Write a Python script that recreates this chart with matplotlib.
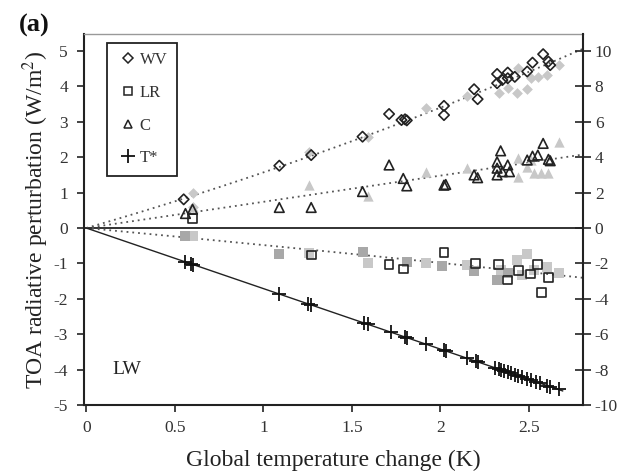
import numpy as np
import matplotlib
matplotlib.use("Agg")
import matplotlib.pyplot as plt
from matplotlib.lines import Line2D

plt.rcParams['font.family'] = ['Liberation Serif', 'DejaVu Serif']
plt.rcParams['mathtext.fontset'] = 'stix'
plt.rcParams['axes.unicode_minus'] = False

# ---- water vapour (WV) ----
wv_x_open = [0.55, 1.09, 1.27, 1.56, 1.71, 1.78, 1.80, 1.81, 2.02, 2.02, 2.19, 2.21,
             2.32, 2.32, 2.35, 2.38, 2.38, 2.42, 2.49, 2.52, 2.58, 2.61, 2.62]
wv_y_open = [0.81, 1.76, 2.06, 2.58, 3.22, 3.05, 3.07, 3.04, 3.45, 3.19, 3.92, 3.64,
             4.35, 4.09, 4.18, 4.39, 4.23, 4.27, 4.42, 4.67, 4.91, 4.70, 4.60]
wv_x_gray = [0.60, 0.60, 1.26, 1.59, 1.92, 2.15, 2.33, 2.38, 2.43, 2.44, 2.49, 2.51,
             2.55, 2.60, 2.67]
wv_y_gray = [0.98, 0.58, 2.16, 2.58, 3.40, 3.72, 3.80, 3.95, 3.82, 4.51, 3.92, 4.23,
             4.27, 4.32, 4.60]

# ---- lapse rate (LR) ----
lr_x_open = [0.60, 1.27, 1.71, 1.79, 2.02, 2.20, 2.33, 2.38, 2.44, 2.51, 2.55, 2.57, 2.61]
lr_y_open = [0.27, -0.76, -1.03, -1.16, -0.69, -1.00, -1.03, -1.47, -1.20, -1.30, -1.02,
             -1.82, -1.39]
lr_x_mid = [0.56, 1.09, 1.56, 1.81, 2.01, 2.19, 2.32, 2.38]
lr_y_mid = [-0.22, -0.72, -0.67, -0.95, -1.06, -1.20, -1.47, -1.28]
lr_x_light = [0.60, 1.26, 1.59, 1.92, 2.15, 2.34, 2.43, 2.46, 2.49, 2.53, 2.60, 2.67]
lr_y_light = [-0.22, -0.70, -0.98, -1.00, -1.05, -1.19, -0.90, -1.33, -0.72, -1.19,
              -1.09, -1.28]

# ---- clouds (C) ----
c_x_open = [0.56, 0.60, 1.09, 1.27, 1.56, 1.71, 1.79, 1.81, 2.02, 2.03, 2.19, 2.21,
            2.32, 2.32, 2.32, 2.34, 2.35, 2.38, 2.39, 2.49, 2.52, 2.55, 2.58, 2.61, 2.62]
c_y_open = [0.41, 0.53, 0.58, 0.58, 1.03, 1.78, 1.40, 1.19, 1.21, 1.23, 1.50, 1.42,
            1.50, 1.69, 1.87, 2.18, 1.59, 1.78, 1.59, 1.92, 2.03, 2.06, 2.39, 1.94, 1.90]
c_x_gray = [0.60, 1.26, 1.59, 1.92, 2.15, 2.44, 2.44, 2.49, 2.51, 2.53, 2.57, 2.61, 2.67]
c_y_gray = [0.60, 1.21, 0.90, 1.59, 1.70, 1.97, 1.45, 1.73, 1.92, 1.54, 1.56, 1.56, 2.44]

# ---- temperature term (T*) ----
t_x = [0.56, 0.59, 0.60, 1.09, 1.25, 1.27, 1.57, 1.59, 1.72, 1.80, 1.81, 1.92, 2.02,
       2.03, 2.15, 2.20, 2.21, 2.31, 2.33, 2.34, 2.36, 2.38, 2.40, 2.42, 2.44, 2.46,
       2.49, 2.51, 2.54, 2.56, 2.60, 2.62, 2.67]
t_y = [-0.96, -1.01, -1.03, -1.87, -2.14, -2.17, -2.68, -2.72, -2.94, -3.08, -3.10,
       -3.28, -3.45, -3.47, -3.68, -3.76, -3.78, -3.95, -3.98, -4.00, -4.04, -4.07,
       -4.10, -4.14, -4.17, -4.21, -4.26, -4.29, -4.34, -4.38, -4.45, -4.48, -4.56]

# regression curves, y = a*x + b*x**2
wv_fit = [1.44, 0.13]
c_fit = [0.74, 0.0]
lr_fit = [-0.47, -0.011]
t_fit = [-1.71, 0.0]

fig = plt.figure(figsize=(6.19, 4.76), dpi=100)
ax = fig.add_axes([0.1357, 0.149, 0.8061, 0.7796])

xs = np.linspace(0, 2.8, 200)
for a, b in (wv_fit, c_fit, lr_fit):
    ax.plot(xs, a * xs + b * xs ** 2, color='#555555', lw=1.3, ls=(0, (1, 2.2)), zorder=2)
xt = np.linspace(0, max(t_x) + 0.02, 100)
ax.plot(xt, t_fit[0] * xt + t_fit[1] * xt ** 2, color='#222222', lw=1.0, zorder=2)

ax.axhline(0, color='#222222', lw=1.3, zorder=1)

light = '#c8c8c8'
mid = '#a8a8a8'
ax.scatter(wv_x_gray, wv_y_gray, marker='D', s=30, color=light, zorder=3, linewidths=0)
ax.scatter(lr_x_light, lr_y_light, marker='s', s=48, color=light, zorder=3, linewidths=0)
ax.scatter(lr_x_mid, lr_y_mid, marker='s', s=48, color=mid, zorder=3, linewidths=0)
ax.scatter(c_x_gray, c_y_gray, marker='^', s=55, color=light, zorder=3, linewidths=0)

ax.scatter(wv_x_open, wv_y_open, marker='D', s=28, facecolor='none', edgecolor='#222222',
           linewidths=1.2, zorder=4)
ax.scatter(lr_x_open, lr_y_open, marker='s', s=40, facecolor='none', edgecolor='#222222',
           linewidths=1.2, zorder=4)
ax.scatter(c_x_open, c_y_open, marker='^', s=48, facecolor='none', edgecolor='#222222',
           linewidths=1.2, zorder=4)
ax.scatter(t_x, t_y, marker='+', s=90, color='#111111', linewidths=1.3, zorder=5)

ax.set_xlim(-0.013, 2.805)
ax.set_ylim(-5, 5.48)
ax.set_xticks([0, 0.5, 1, 1.5, 2, 2.5])
ax.set_xticklabels(['0', '0.5', '1', '1.5', '2', '2.5'])
ax.set_yticks(range(-5, 6))
ax.tick_params(axis='both', direction='out', length=5, width=1.2, labelsize=12.5,
               labelcolor='#333333', color='#222222')
ax.tick_params(axis='x', pad=6)
ax.tick_params(axis='y', pad=6.5)
for s in ('left', 'bottom'):
    ax.spines[s].set_linewidth(1.5)
    ax.spines[s].set_color('#222222')
ax.spines['top'].set_color('#999999')
ax.spines['top'].set_linewidth(1.0)
ax.spines['right'].set_visible(False)

ax2 = ax.twinx()
ax2.set_ylim(-10, 10.96)
ax2.set_yticks(range(-10, 11, 2))
ax2.tick_params(axis='y', direction='inout', length=11, width=1.2, labelsize=12.5,
                labelcolor='#333333', color='#222222', pad=3)
ax2.spines['right'].set_linewidth(1.5)
ax2.spines['right'].set_color('#222222')
for s in ('left', 'top', 'bottom'):
    ax2.spines[s].set_visible(False)

ax.set_xlabel('Global temperature change (K)', fontsize=17, color='#222222', labelpad=10)
ax.set_ylabel('TOA radiative perturbation (W/m$^2$)', fontsize=17, color='#222222',
              labelpad=2)

ax.text(0.15, -4.0, 'LW', fontsize=14, color='#222222', va='center')
fig.text(0.031, 0.947, '(a)', fontsize=19, fontweight='bold', color='#111111',
         va='center')

handles = [
    Line2D([], [], ls='none', marker='D', ms=5, mfc='none', mec='#222222', mew=1.1),
    Line2D([], [], ls='none', marker='s', ms=6, mfc='none', mec='#222222', mew=1.1),
    Line2D([], [], ls='none', marker='^', ms=6, mfc='none', mec='#222222', mew=1.1),
    Line2D([], [], ls='none', marker='+', ms=10, color='#111111', mew=1.3),
]
leg = ax.legend(handles, ['WV', 'LR', 'C', 'T*'], loc='upper left',
                bbox_to_anchor=(0.046, 0.976), fontsize=12, labelspacing=1.0,
                handletextpad=0.05, handlelength=1.35, borderpad=0.56, fancybox=False,
                framealpha=1, edgecolor='#222222', borderaxespad=0)
leg.get_frame().set_linewidth(1.3)
for t in leg.get_texts():
    t.set_color('#333333')

fig.savefig('out.png', dpi=100)
